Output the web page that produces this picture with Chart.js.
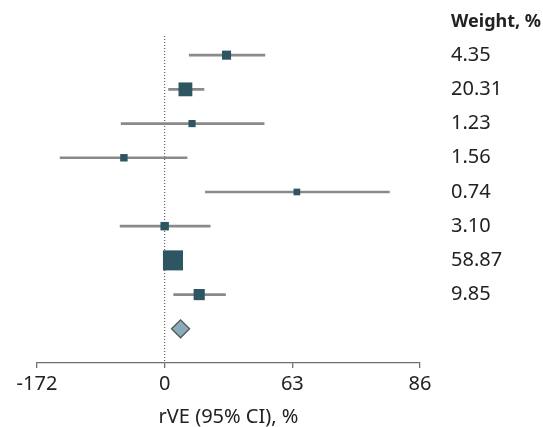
<!DOCTYPE html>
<html>
<head>
<meta charset="utf-8">
<script src="https://cdn.jsdelivr.net/npm/chart.js@4"></script>
<style>
  body { margin: 0; background: #fff; }
  #wrap { width: 543px; height: 427px; }
</style>
</head>
<body>
<div id="wrap"><canvas id="chart" width="543" height="427"></canvas></div>
<script>
// study rows, top to bottom
const weights = ['4.35', '20.31', '1.23', '1.56', '0.74', '3.10', '58.87', '9.85'];
const rve = [38.4, 15.0, 19.3, -37.6, 64.5, 0.0, 6.3, 23.7];
const rveLow = [17.5, 3.0, -40.6, -126.8, 27.3, -41.8, 1.5, 6.8];
const rveHigh = [54.4, 26.5, 54.1, 16.1, 82.8, 30.0, 11.0, 37.9];
// pooled estimate (diamond)
const pooled = [11.7];
const pooledLow = [6.0];
const pooledHigh = [17.0];
// x axis ticks sit at ln(RR) = 1, 0, -1, -2
const tickLogRR = [1, 0, -1, -2];
const tickLabels = ['-172', '0', '63', '86'];

// rVE is plotted on a log risk-ratio axis: u = -ln(RR) = -ln(1 - rVE/100)
function toAxis(v) {
  return -Math.log(1 - v / 100);
}

const FONT = "'Noto Sans', sans-serif";
const rowTop = -0.56;
const rowBottom = 9;

function sideFor(w) {
  return 5 + 1.96 * Math.sqrt(parseFloat(w));
}

const weightColumn = {
  id: 'weightColumn',
  afterDraw(chart) {
    const { ctx } = chart;
    const y = chart.scales.y;
    ctx.save();
    ctx.fillStyle = '#222';
    ctx.textAlign = 'left';
    ctx.textBaseline = 'middle';
    ctx.font = 'bold 18px ' + FONT;
    ctx.fillText('Weight, %', 451, 22);
    ctx.font = '20px ' + FONT;
    weights.forEach((w, i) => {
      ctx.fillText(w, 451, y.getPixelForValue(i));
    });
    ctx.restore();
  }
};

const el = document.getElementById('chart');
new Chart(el, {
  type: 'scatter',
  data: {
    datasets: [
      {
        type: 'scatter',
        order: 0,
        data: rve.map((v, i) => ({ x: toAxis(v), y: i })),
        pointStyle: 'rect',
        pointRadius: weights.map((w) => sideFor(w) * Math.SQRT1_2),
        backgroundColor: '#2d5662',
        borderColor: '#2d5662',
        borderWidth: 0,
      },
      {
        type: 'scatter',
        order: 0,
        data: pooled.map((v) => ({ x: toAxis(v), y: weights.length })),
        pointStyle: 'rectRot',
        pointRadius: 9,
        backgroundColor: '#8aabb9',
        borderColor: '#555',
        borderWidth: 1.3,
      },
      {
        type: 'bar',
        order: 1,
        indexAxis: 'y',
        data: rve.map((v, i) => ({ x: [toAxis(rveLow[i]), toAxis(rveHigh[i])], y: i })),
        backgroundColor: '#8a8a8a',
        borderWidth: 0,
        barThickness: 2,
      },
      {
        type: 'scatter',
        order: 2,
        showLine: true,
        data: [{ x: 0, y: rowTop }, { x: 0, y: rowBottom }],
        borderColor: '#444',
        borderWidth: 1,
        borderDash: [1, 2],
        pointRadius: 0,
        clip: false,
      },
    ]
  },
  options: {
    responsive: false,
    animation: false,
    events: [],
    layout: { padding: { left: 37, right: 123, top: 36, bottom: 0 } },
    plugins: { legend: { display: false }, tooltip: { enabled: false } },
    scales: {
      x: {
        type: 'linear',
        offset: false,
        min: -tickLogRR[0],
        max: -tickLogRR[tickLogRR.length - 1],
        afterBuildTicks(scale) {
          scale.ticks = tickLogRR.map((v) => ({ value: -v }));
        },
        ticks: {
          font: { family: FONT, size: 20 },
          color: '#222',
          padding: 4,
          autoSkip: false,
          maxRotation: 0,
          callback: (val, i) => tickLabels[i],
        },
        grid: {
          offset: false,
          drawOnChartArea: false,
          drawTicks: true,
          tickLength: 5,
          color: '#6f6f6f',
          lineWidth: 1.3,
        },
        border: { color: '#6f6f6f', width: 1.3 },
        title: {
          display: true,
          text: 'rVE (95% CI), %',
          font: { family: FONT, size: 20, lineHeight: 1 },
          color: '#222',
          padding: { top: 7, bottom: 0 },
        },
      },
      y: {
        type: 'linear',
        display: false,
        offset: false,
        reverse: true,
        min: rowTop,
        max: rowBottom,
      },
    },
  },
  plugins: [weightColumn],
});
</script>
</body>
</html>
